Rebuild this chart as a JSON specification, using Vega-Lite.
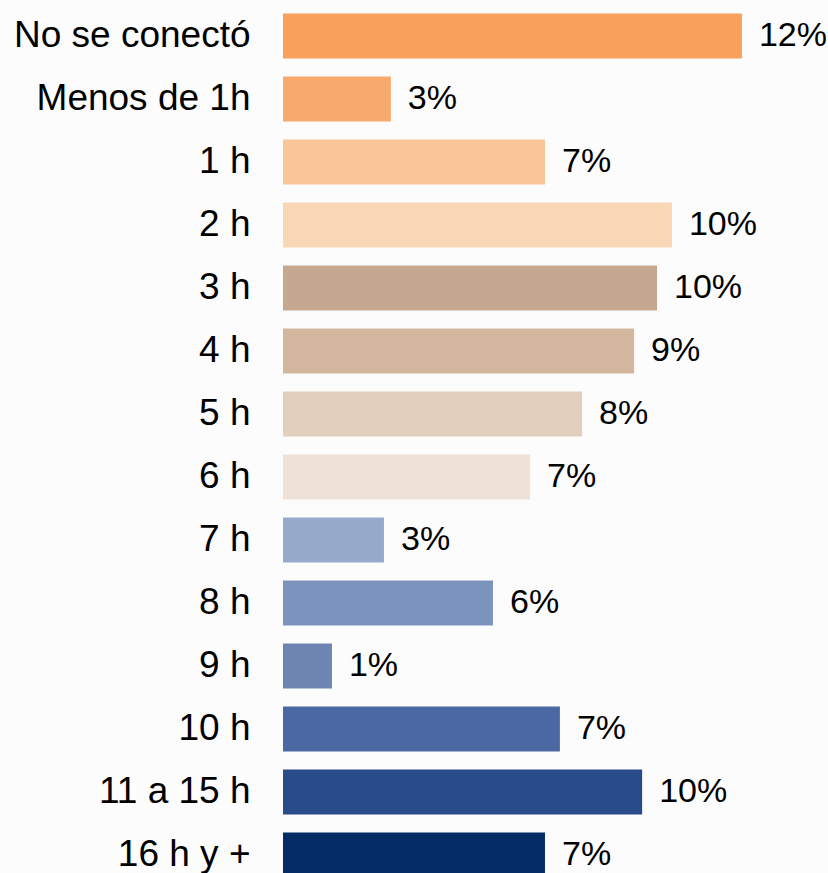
{
  "$schema": "https://vega.github.io/schema/vega-lite/v6.json",
  "width": 545,
  "height": 882,
  "autosize": {"type": "none"},
  "padding": {"left": 283, "top": 4.5, "right": 0, "bottom": 0},
  "background": "#FCFCFC",
  "config": {"view": {"stroke": null}, "font": "Liberation Sans"},
  "data": {
    "values": [
      {"cat": "No se conectó", "value": 12.0, "label": "12%", "color": "#F9A05A"},
      {"cat": "Menos de 1h", "value": 2.82, "label": "3%", "color": "#F8AA6C"},
      {"cat": "1 h", "value": 6.85, "label": "7%", "color": "#FAC598"},
      {"cat": "2 h", "value": 10.17, "label": "10%", "color": "#F8D7B5"},
      {"cat": "3 h", "value": 9.78, "label": "10%", "color": "#C4A890"},
      {"cat": "4 h", "value": 9.18, "label": "9%", "color": "#D2B79E"},
      {"cat": "5 h", "value": 7.82, "label": "8%", "color": "#E2CFBE"},
      {"cat": "6 h", "value": 6.46, "label": "7%", "color": "#EEE2D6"},
      {"cat": "7 h", "value": 2.64, "label": "3%", "color": "#97A9CB"},
      {"cat": "8 h", "value": 5.49, "label": "6%", "color": "#7C93BD"},
      {"cat": "9 h", "value": 1.28, "label": "1%", "color": "#6E85B2"},
      {"cat": "10 h", "value": 7.24, "label": "7%", "color": "#4B68A2"},
      {"cat": "11 a 15 h", "value": 9.39, "label": "10%", "color": "#2A4B89"},
      {"cat": "16 h y +", "value": 6.85, "label": "7%", "color": "#052C66"}
    ]
  },
  "encoding": {
    "y": {
      "field": "cat",
      "type": "nominal",
      "sort": null,
      "scale": {"paddingInner": 0.286, "paddingOuter": 0.143},
      "axis": {
        "title": null,
        "domain": false,
        "ticks": false,
        "labelPadding": 33,
        "labelFontSize": 37,
        "labelLimit": 0,
        "labelColor": "#000000",
        "labelFont": "Liberation Sans"
      }
    },
    "x": {
      "field": "value",
      "type": "quantitative",
      "scale": {"domain": [0, 14.25], "nice": false},
      "axis": null
    }
  },
  "layer": [
    {
      "mark": {"type": "bar"},
      "encoding": {"color": {"field": "color", "type": "nominal", "scale": null}}
    },
    {
      "mark": {"type": "text", "align": "left", "baseline": "middle", "dx": 17, "fontSize": 34, "color": "#000000", "font": "Liberation Sans"},
      "encoding": {"text": {"field": "label"}}
    }
  ]
}
